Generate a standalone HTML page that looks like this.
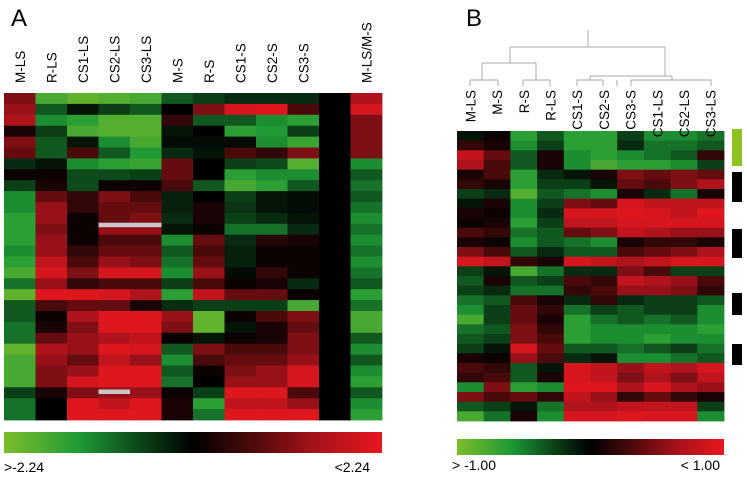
<!DOCTYPE html>
<html><head><meta charset="utf-8">
<style>
html,body{margin:0;padding:0;background:#fff;}
svg{display:block;font-family:"Liberation Sans",Arial,sans-serif;}
</style></head>
<body>
<svg id="fig" width="747" height="478" viewBox="0 0 747 478" xmlns="http://www.w3.org/2000/svg">
<defs>
<linearGradient id="cb" x1="0" x2="1" y1="0" y2="0">
<stop offset="0" stop-color="#7cbd2b"/><stop offset="0.2" stop-color="#1f9a35"/><stop offset="0.35" stop-color="#0d4a1c"/><stop offset="0.5" stop-color="#000"/><stop offset="0.65" stop-color="#4a0a0c"/><stop offset="0.82" stop-color="#a5121a"/><stop offset="1" stop-color="#e8171f"/>
</linearGradient>
</defs>
<text x="11" y="26" font-size="24">A</text>
<text x="466" y="26" font-size="24">B</text>
<g id="gA"></g>
<g id="gB"></g>
<g stroke="#aaa" stroke-width="1" fill="none">
<path d="M588 30V47M510 47H665M510 47V63M482 63H536M482 63V80M470 80H498M470 80V86M498 80V86M536 63V80M523 80H550M523 80V86M550 80V86M665 47V76M590 76H672M590 76V80M577 80H603M577 80V86M603 80V86M672 76V80M631 80H711M631 80V86M711 80V86M617 80V86"/>
</g>
<rect x="4" y="432" width="378" height="21" fill="url(#cb)"/>
<text x="4" y="472" font-size="14">&gt;-2.24</text>
<text x="370" y="472" font-size="14" text-anchor="end">&lt;2.24</text>
<rect x="457" y="439" width="267" height="16" fill="url(#cb)"/>
<text x="452" y="470" font-size="14">&gt; -1.00</text>
<text x="720" y="470" font-size="14" text-anchor="end">&lt; 1.00</text>
<rect x="732" y="129" width="10" height="37" fill="#8dc21f"/>
<rect x="732" y="172" width="10" height="30" fill="#000"/>
<rect x="732" y="229" width="10" height="29" fill="#000"/>
<rect x="732" y="293" width="10" height="22" fill="#000"/>
<rect x="732" y="344" width="10" height="21" fill="#000"/>
</svg>
<script>
const colsA = ["M-LS","R-LS","CS1-LS","CS2-LS","CS3-LS","M-S","R-S","CS1-S","CS2-S","CS3-S","","M-LS/M-S"];
const valuesA = [
[0.5,-0.8,-0.9,-0.85,-0.8,-0.4,-0.3,-0.2,-0.2,-0.2,0,0.7],
[0.6,-0.4,-0.1,-0.3,-0.4,0,0.5,0.9,0.95,0.3,0,0.9],
[0.7,-0.6,-0.7,-0.85,-0.85,0.2,-0.4,-0.4,-0.6,-0.7,0,0.5],
[0.1,-0.3,-0.8,-0.85,-0.85,-0.1,0,-0.7,-0.65,-0.3,0,0.5],
[0.5,-0.4,-0.1,-0.6,-0.8,-0.05,-0.05,-0.05,-0.6,-0.75,0,0.5],
[0.4,-0.4,0.3,-0.4,-0.65,-0.2,-0.1,0.3,0.2,0.5,0,0.5],
[-0.2,-0.1,-0.6,-0.7,-0.75,0.4,0,-0.3,-0.35,-0.85,0,-0.6],
[0.05,0.05,-0.35,-0.35,-0.3,0.4,0,-0.7,-0.6,-0.6,0,-0.4],
[-0.3,0.1,-0.35,0.05,0.05,0.3,-0.4,-0.8,-0.7,-0.4,0,-0.5],
[-0.6,0.4,0.2,0.5,0.3,-0.15,0,-0.3,-0.1,-0.05,0,-0.4],
[-0.6,0.6,0.2,0.4,0.4,-0.15,0.1,-0.25,-0.1,-0.05,0,-0.5],
[-0.7,0.6,0.05,0.4,0.5,-0.2,0.1,-0.3,-0.2,-0.1,0,-0.6],
[-0.7,0.5,0.05,0.6,0.6,-0.1,0.05,-0.5,-0.5,-0.2,0,-0.5],
[-0.7,0.6,0.05,0.3,0.3,-0.6,0.4,-0.2,0.15,0.1,0,-0.6],
[-0.6,0.6,0.2,0.4,0.4,-0.4,0.3,-0.15,0.05,0.05,0,-0.5],
[-0.7,0.8,0.3,0.6,0.5,-0.5,0.4,-0.15,0.05,0.05,0,-0.6],
[-0.8,0.9,0.5,0.9,0.9,-0.6,0.6,-0.05,0.2,0.05,0,-0.5],
[-0.5,0.6,0.2,0.3,0.3,-0.3,0.3,0.05,0.1,-0.2,0,-0.4],
[-0.9,0.95,0.95,0.9,0.7,-0.7,0.8,0.4,0.4,0.05,0,-0.7],
[-0.4,0.3,0.4,0.4,0.1,-0.2,-0.3,-0.3,-0.3,-0.8,0,-0.5],
[-0.4,0.05,0.7,0.95,0.95,0.6,-0.9,0.05,0.3,0.5,0,-0.8],
[-0.5,0.1,0.5,0.95,0.95,0.5,-0.9,-0.1,0.1,0.4,0,-0.8],
[-0.5,0.4,0.6,0.7,0.8,0.05,-0.1,0.05,0.1,0.5,0,-0.4],
[-0.9,0.7,0.6,0.95,0.9,-0.4,0.5,0.3,0.3,0.5,0,-0.6],
[-0.8,0.6,0.4,0.8,0.6,-0.6,0.3,0.4,0.4,0.6,0,-0.4],
[-0.8,0.5,0.6,0.95,0.95,-0.4,0.05,0.5,0.6,0.9,0,-0.6],
[-0.8,0.5,0.9,0.95,0.95,-0.5,0,0.6,0.6,0.9,0,-0.7],
[-0.3,0.1,0.5,0.6,0.6,0.05,-0.3,0.95,0.95,0.3,0,-0.4],
[-0.5,0,0.95,0.8,0.95,0.1,-0.7,0.8,0.8,0.6,0,-0.6],
[-0.5,0,0.95,0.95,0.95,0.1,-0.5,0.95,0.95,0.95,0,-0.7]
];
const missingA = [[11.9,3,2],[27.2,3,1]];
const colsB = ["M-LS","M-S","R-S","R-LS","CS1-S","CS2-S","CS3-S","CS1-LS","CS2-LS","CS3-LS"];
const valuesB = [
[-0.1,0.05,-0.7,-0.4,-0.7,-0.7,-0.3,-0.6,-0.6,-0.5],
[0.2,0.1,-0.6,-0.3,-0.7,-0.7,-0.2,-0.5,-0.5,-0.4],
[0.8,0.4,-0.4,0.1,-0.6,-0.7,-0.6,-0.5,-0.4,0.2],
[0.7,0.3,-0.4,0.1,-0.6,-0.8,-0.7,-0.7,-0.6,-0.3],
[0.1,0.3,-0.7,-0.2,-0.1,0.1,0.5,0.4,0.5,0.4],
[0.2,0.1,-0.7,-0.3,-0.3,-0.1,0.4,0.3,0.5,0.7],
[-0.3,-0.2,-0.85,-0.4,-0.5,-0.6,0.1,-0.2,-0.5,0.1],
[-0.1,0.1,-0.6,-0.3,0.5,0.4,0.9,0.8,0.8,0.8],
[0.1,0.05,-0.6,-0.2,0.9,0.9,0.95,0.9,0.8,0.95],
[0.05,0.1,-0.7,-0.3,0.8,0.8,0.9,0.9,0.9,0.9],
[0.3,0.2,-0.5,-0.4,0.4,0.5,0.8,0.7,0.6,0.6],
[0.1,0.05,-0.6,-0.4,-0.5,-0.6,0.1,0.2,0.2,0.1],
[0.5,0.3,-0.4,-0.2,-0.4,-0.4,0.3,0.4,0.5,0.7],
[0.9,0.8,0.2,0.1,0.9,0.8,0.7,0.8,0.9,0.9],
[-0.3,-0.1,-0.8,-0.5,-0.2,-0.2,0.5,0.3,-0.3,-0.3],
[-0.4,0.1,-0.4,-0.3,0.3,0.2,0.8,0.7,0.6,0.3],
[-0.3,-0.2,-0.5,-0.5,0.2,0.3,0.6,0.6,0.5,0.2],
[-0.5,-0.4,0.3,0.1,-0.2,0.2,-0.2,-0.3,-0.3,-0.4],
[-0.6,-0.3,0.4,0.2,-0.5,-0.3,-0.4,-0.3,-0.3,-0.6],
[-0.8,-0.3,0.4,0.1,-0.7,-0.5,-0.4,-0.5,-0.4,-0.6],
[-0.5,-0.4,0.5,0.2,-0.7,-0.6,-0.6,-0.6,-0.6,-0.7],
[-0.4,-0.3,0.5,0.3,-0.7,-0.6,-0.6,-0.7,-0.6,-0.6],
[-0.3,-0.1,0.9,0.4,-0.4,-0.4,-0.5,-0.4,-0.3,-0.5],
[0.1,0.05,0.6,0.3,-0.2,-0.1,-0.6,-0.6,-0.5,-0.4],
[0.3,0.2,-0.4,-0.1,0.9,0.8,0.6,0.8,0.7,0.9],
[0.2,0.3,-0.4,0.1,0.9,0.8,0.5,0.7,0.5,0.8],
[-0.6,0.5,-0.7,-0.6,0.95,0.95,0.7,0.9,0.7,0.6],
[0.5,0.3,0.4,0.2,0.8,0.6,0.2,0.4,0.2,0.1],
[-0.4,-0.3,-0.1,-0.5,0.7,0.7,0.8,0.8,0.8,-0.3],
[-0.8,-0.5,0.1,-0.6,0.9,0.9,0.95,0.9,0.9,-0.6]
];

const NS = "http://www.w3.org/2000/svg";
const negStops = [[0,[0,0,0]],[0.35,[13,74,28]],[0.65,[31,154,53]],[1,[124,189,43]]];
const posStops = [[0,[0,0,0]],[0.3,[74,10,12]],[0.65,[165,18,26]],[1,[232,23,31]]];
function color(v){
  const st = v<0?negStops:posStops; const a=Math.min(1,Math.abs(v));
  for(let i=1;i<st.length;i++){ if(a<=st[i][0]){ const t=(a-st[i-1][0])/(st[i][0]-st[i-1][0]);
    const c=st[i-1][1].map((x,k)=>Math.round(x+(st[i][1][k]-x)*t)); return `rgb(${c})`; } }
  return `rgb(${st[st.length-1][1]})`;
}
function heat(g, vals, cols, x0, x1, y0, y1, labelY, prefix, labelAnchorTop){
  const cw=(x1-x0)/cols.length, rh=(y1-y0)/vals.length;
  vals.forEach((row,r)=>row.forEach((v,c)=>{
    const el=document.createElementNS(NS,"rect");
    el.setAttribute("x",(x0+c*cw).toFixed(2)); el.setAttribute("y",(y0+r*rh).toFixed(2));
    el.setAttribute("width",(cw+0.4).toFixed(2)); el.setAttribute("height",(rh+0.4).toFixed(2));
    el.setAttribute("fill",color(v));
    
    
    g.appendChild(el);
  }));
  cols.forEach((name,c)=>{
    if(!name) return;
    const t=document.createElementNS(NS,"text");
    const cx=x0+c*cw+cw/2+5;
    t.setAttribute("transform",`translate(${cx.toFixed(1)},${labelY}) rotate(-90)`);
    t.setAttribute("font-size","13.5");
    if(labelAnchorTop) t.setAttribute("text-anchor","end");
    t.textContent=name;
    
    
    document.getElementById("fig").appendChild(t);
  });
  return [cw,rh];
}
const gA=document.getElementById("gA"), gB=document.getElementById("gB");
const [cwA,rhA]=heat(gA,valuesA,colsA,4,382,93,420,83,"a",false);
missingA.forEach(m=>{
  const el=document.createElementNS(NS,"rect");
  el.setAttribute("x",(4+m[1]*cwA).toFixed(1)); el.setAttribute("y",(93+m[0]*rhA).toFixed(1));
  el.setAttribute("width",(m[2]*cwA).toFixed(1)); el.setAttribute("height","4.5");
  el.setAttribute("fill","#c8c8c8");
  
  
  gA.appendChild(el);
});
heat(gB,valuesB,colsB,457,724,131,421,90,"b",true);
</script>
</body></html>
